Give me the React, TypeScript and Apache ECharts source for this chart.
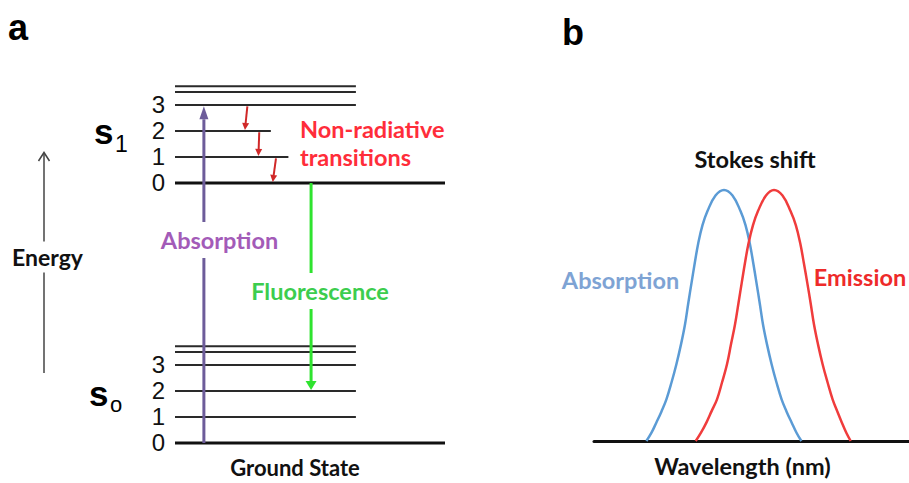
import React, { useEffect, useRef } from "react";
import * as echarts from "echarts";

// ---------- Panel a: Jablonski diagram ----------
// vibrational levels (energy, arbitrary units)
const s0Energies = [0, 1, 2, 3, 3.5, 3.72];
const s1Energies = [10, 11, 12, 13, 13.5, 13.72];
// horizontal extent of each level line (% of the diagram width)
const s0Extents = [100, 67, 67, 67, 67, 67];
const s1Extents = [100, 42, 35.5, 67, 67, 67];
const levelTickLabels = ["0", "1", "2", "3", "", ""];

// arrows: [x start, energy start, x end, energy end]
const absorptionArrow = [[10.7, 0, 10.7, 12.95]];
const fluorescenceArrow = [[50.4, 10, 50.4, 2.04]];
const nonRadiativeArrows = [
  [26.8, 12.95, 25.9, 12.04],
  [31.2, 11.95, 30.9, 11.04],
  [37.4, 10.95, 36.2, 10.04],
];

// ---------- Panel b: spectra ----------
const absorptionWavelength = [
  402.4, 407.5, 412.4, 417.5, 422.4, 427.5, 432.4, 437, 441, 444.3, 447.6, 450.8, 454.2, 458.5, 463.5, 471.5, 480,
  488.5, 496.5, 501.5, 505.8, 509.2, 512.4, 515.7, 519, 523, 527.6, 532.5, 537.6, 542.5, 547.6, 552.5, 557.4,
];
const absorptionIntensity = [
  0, 0.033, 0.074, 0.118, 0.166, 0.233, 0.306, 0.385, 0.464, 0.55, 0.632, 0.71, 0.787, 0.86, 0.916, 0.978, 1,
  0.978, 0.916, 0.86, 0.787, 0.71, 0.632, 0.55, 0.464, 0.385, 0.306, 0.233, 0.166, 0.118, 0.074, 0.033, 0,
];
const emissionWavelength = [
  451.7, 457, 462.5, 467.5, 473, 478, 483, 487, 491, 494.5, 497.8, 501, 504.5, 509, 514, 522, 530,
  538.5, 546.5, 551.8, 556.3, 559.8, 563.2, 566.6, 570, 574, 578.6, 583.6, 588.6, 593.3, 597.8, 602.3, 606.7,
];
const emissionIntensity = [
  0, 0.033, 0.074, 0.118, 0.166, 0.233, 0.306, 0.385, 0.464, 0.55, 0.632, 0.71, 0.787, 0.86, 0.916, 0.978, 1,
  0.978, 0.916, 0.86, 0.787, 0.71, 0.632, 0.55, 0.464, 0.385, 0.306, 0.233, 0.166, 0.118, 0.074, 0.033, 0,
];

const LABEL_FONT = "Lato";
const SANS = "Liberation Sans";
const LABEL_SIZE = 23.5;

type Row = { e: number; w: number; label: string; ground: boolean };
const levelRows: Row[] = [
  ...s0Energies.map((e, i) => ({ e, w: s0Extents[i], label: levelTickLabels[i], ground: i === 0 })),
  ...s1Energies.map((e, i) => ({ e, w: s1Extents[i], label: levelTickLabels[i], ground: i === 0 })),
];

function levelRender(params: any, api: any) {
  const row = levelRows[params.dataIndex];
  const p0 = api.coord([0, row.e]);
  const p1 = api.coord([row.w, row.e]);
  const children: any[] = [
    {
      type: "line",
      shape: { x1: p0[0], y1: p0[1], x2: p1[0], y2: p1[1] },
      style: { stroke: row.ground ? "#111" : "#2a2a2a", lineWidth: row.ground ? 3 : 2 },
    },
  ];
  if (row.label) {
    children.push({
      type: "text",
      x: p0[0] - 10,
      y: p0[1] - 1,
      style: {
        text: row.label,
        fontFamily: SANS,
        fontSize: 24,
        fill: "#111",
        align: "right",
        verticalAlign: "middle",
      },
    });
  }
  return { type: "group", children };
}

function arrowRenderer(color: string, lineWidth: number, headLen: number, headWidth: number) {
  return (params: any, api: any) => {
    const a = api.coord([api.value(0), api.value(1)]);
    const b = api.coord([api.value(2), api.value(3)]);
    const dx = b[0] - a[0];
    const dy = b[1] - a[1];
    const len = Math.hypot(dx, dy) || 1;
    const ux = dx / len;
    const uy = dy / len;
    const bx = b[0] - ux * headLen;
    const by = b[1] - uy * headLen;
    const nx = -uy;
    const ny = ux;
    return {
      type: "group",
      children: [
        { type: "line", shape: { x1: a[0], y1: a[1], x2: bx, y2: by }, style: { stroke: color, lineWidth } },
        {
          type: "polygon",
          shape: {
            points: [
              [b[0], b[1]],
              [bx + (nx * headWidth) / 2, by + (ny * headWidth) / 2],
              [bx - (nx * headWidth) / 2, by - (ny * headWidth) / 2],
            ],
          },
          style: { fill: color },
        },
      ],
    };
  };
}

function label(text: string, x: number, y: number, color: string, size: number, extra: any = {}) {
  return {
    type: "text",
    x,
    y,
    z: 100,
    style: {
      text,
      fill: color,
      fontFamily: LABEL_FONT,
      fontWeight: "bold",
      fontSize: size,
      align: "center",
      verticalAlign: "middle",
      ...extra,
    },
  };
}

export default function App() {
  const ref = useRef<HTMLDivElement>(null);
  useEffect(() => {
    if (!ref.current) return;
    const chart = echarts.init(ref.current, undefined, { renderer: "svg" });
    const option: any = {
      animation: false,
      backgroundColor: "#fff",
      grid: [
        { left: 175, top: 79, width: 270, height: 371 },
        { left: 594, top: 127.25, width: 315, height: 322.25 },
      ],
      xAxis: [
        {
          gridIndex: 0,
          type: "value",
          min: 0,
          max: 100,
          axisLine: { show: false },
          axisTick: { show: false },
          axisLabel: { show: false },
          splitLine: { show: false },
          name: "Ground State",
          nameLocation: "middle",
          nameGap: 13,
          nameTextStyle: {
            fontFamily: LABEL_FONT,
            fontWeight: "bold",
            fontSize: 22,
            color: "#111",
            padding: [0, 30, 0, 0],
          },
        },
        {
          gridIndex: 1,
          type: "value",
          min: 350,
          max: 665,
          axisLine: { show: true, lineStyle: { color: "#111", width: 3 } },
          axisTick: { show: false },
          axisLabel: { show: false },
          splitLine: { show: false },
          name: "Wavelength (nm)",
          nameLocation: "middle",
          nameGap: 13,
          nameTextStyle: {
            fontFamily: LABEL_FONT,
            fontWeight: "bold",
            fontSize: LABEL_SIZE,
            color: "#111",
            padding: [0, 18, 0, 0],
          },
        },
      ],
      yAxis: [
        { gridIndex: 0, type: "value", min: 0, max: 14, show: false },
        { gridIndex: 1, type: "value", min: 0, max: 1.25, show: false },
      ],
      series: [
        {
          type: "custom",
          name: "Energy levels",
          xAxisIndex: 0,
          yAxisIndex: 0,
          clip: false,
          silent: true,
          renderItem: levelRender,
          data: levelRows.map((r) => [0, r.e, r.w]),
        },
        {
          type: "custom",
          name: "Absorption",
          xAxisIndex: 0,
          yAxisIndex: 0,
          clip: false,
          silent: true,
          z: 3,
          renderItem: arrowRenderer("#6d5c9a", 3, 13, 9),
          data: absorptionArrow,
        },
        {
          type: "custom",
          name: "Fluorescence",
          xAxisIndex: 0,
          yAxisIndex: 0,
          clip: false,
          silent: true,
          z: 3,
          renderItem: arrowRenderer("#2fe32f", 3, 9, 11),
          data: fluorescenceArrow,
        },
        {
          type: "custom",
          name: "Non-radiative transitions",
          xAxisIndex: 0,
          yAxisIndex: 0,
          clip: false,
          silent: true,
          z: 3,
          renderItem: arrowRenderer("#d02828", 2, 7, 7),
          data: nonRadiativeArrows,
        },
        {
          type: "line",
          name: "Absorption spectrum",
          xAxisIndex: 1,
          yAxisIndex: 1,
          smooth: 0.4,
          symbol: "none",
          lineStyle: { color: "#5b9bd5", width: 2.5 },
          data: absorptionWavelength.map((w, i) => [w, absorptionIntensity[i]]),
        },
        {
          type: "line",
          name: "Emission spectrum",
          xAxisIndex: 1,
          yAxisIndex: 1,
          smooth: 0.4,
          symbol: "none",
          lineStyle: { color: "#f03c3c", width: 2.5 },
          data: emissionWavelength.map((w, i) => [w, emissionIntensity[i]]),
        },
      ],
      graphic: [
        // panel letters
        { type: "text", x: 8, y: 27.5, style: { text: "a", fontFamily: SANS, fontWeight: "bold", fontSize: 36, fill: "#000", verticalAlign: "middle" } },
        { type: "text", x: 562, y: 32, style: { text: "b", fontFamily: SANS, fontWeight: "bold", fontSize: 36, fill: "#000", verticalAlign: "middle" } },
        // state symbols
        { type: "text", x: 94, y: 131.6, style: { text: "s", fontFamily: SANS, fontWeight: "bold", fontSize: 35, fill: "#000", verticalAlign: "middle" } },
        { type: "text", x: 115, y: 143.7, style: { text: "1", fontFamily: SANS, fontSize: 23, fill: "#000", verticalAlign: "middle" } },
        { type: "text", x: 89, y: 393.6, style: { text: "s", fontFamily: SANS, fontWeight: "bold", fontSize: 35, fill: "#000", verticalAlign: "middle" } },
        { type: "text", x: 110, y: 404, style: { text: "o", fontFamily: SANS, fontSize: 22, fill: "#000", verticalAlign: "middle" } },
        // energy axis arrow
        { type: "line", shape: { x1: 44, y1: 373, x2: 44, y2: 153 }, style: { stroke: "#444", lineWidth: 1.5 } },
        { type: "polyline", shape: { points: [[38.5, 161], [44, 152.5], [49.5, 161]] }, style: { stroke: "#444", lineWidth: 1.5, fill: null } },
        label("Energy", 47.5, 257, "#111", 23, { backgroundColor: "#fff", padding: [4, 1] }),
        // panel a annotations
        label("Absorption", 219.5, 240, "#a35bb8", LABEL_SIZE, { backgroundColor: "#fff", padding: [6, 1] }),
        label("Fluorescence", 320, 291, "#3ccd4e", LABEL_SIZE, { backgroundColor: "#fff", padding: [6, 1] }),
        label("Non-radiative", 300, 129, "#ff2d3a", LABEL_SIZE, { align: "left" }),
        label("transitions", 300, 157, "#ff2d3a", LABEL_SIZE, { align: "left" }),
        // panel b annotations
        label("Stokes shift", 755, 159, "#111", LABEL_SIZE),
        label("Absorption", 620.5, 280, "#7ea3d4", LABEL_SIZE),
        label("Emission", 860, 277, "#ee2a2a", LABEL_SIZE),
      ],
    };
    chart.setOption(option);
    return () => chart.dispose();
  }, []);
  return (
    <div
      ref={ref}
      style={{ position: "fixed", left: 0, top: 0, width: 909, height: 483, background: "#fff" }}
    />
  );
}
